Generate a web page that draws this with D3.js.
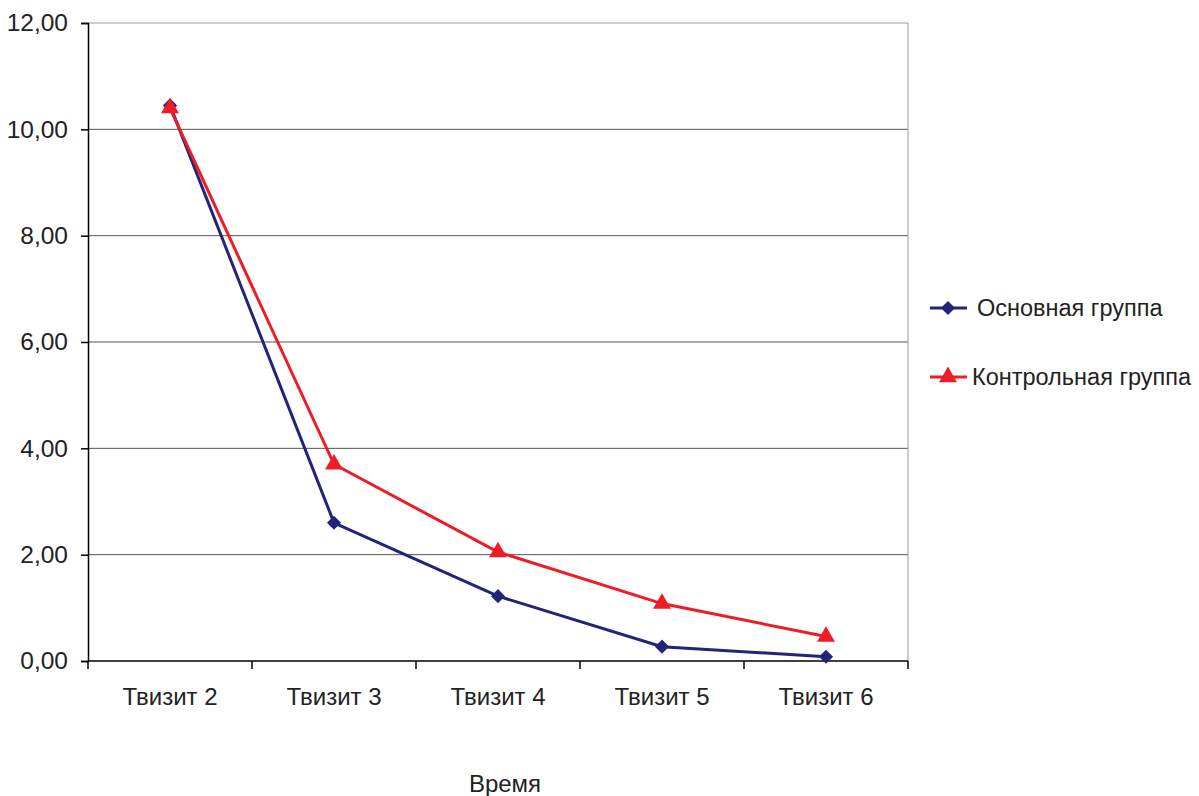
<!DOCTYPE html>
<html>
<head>
<meta charset="utf-8">
<script src="https://cdn.jsdelivr.net/npm/d3@7"></script>
<style>
  body { margin: 0; background: #fff; }
  svg { font-family: 'Liberation Sans', Arial, sans-serif; display: block; }
</style>
</head>
<body>
<svg id="chart" width="1199" height="796"></svg>
<script>
const categories = ['Твизит 2', 'Твизит 3', 'Твизит 4', 'Твизит 5', 'Твизит 6'];
const mainGroup = [10.45, 2.6, 1.22, 0.27, 0.08];
const controlGroup = [10.4, 3.7, 2.05, 1.08, 0.46];
const yTicks = [0, 2, 4, 6, 8, 10, 12];
const seriesNames = ['Основная группа', 'Контрольная группа'];

const svg = d3.select('svg#chart');
const margin = { top: 23, left: 88, right: 291, bottom: 135 };
const width = 1199, height = 796;
const innerWidth = width - margin.left - margin.right;
const innerHeight = height - margin.top - margin.bottom;

const g = svg.append('g')
  .attr('transform', `translate(${margin.left},${margin.top})`);

const xScale = d3.scaleBand().domain(categories).range([0, innerWidth]);
const yScale = d3.scaleLinear().domain([0, 12]).range([innerHeight, 0]);
const fmt = d => d3.format('.2f')(d).replace('.', ',');

// gridlines
g.selectAll('.grid').data(yTicks.filter(d => d > 0))
  .enter().append('line')
    .attr('x1', 0).attr('x2', innerWidth)
    .attr('y1', d => yScale(d)).attr('y2', d => yScale(d))
    .attr('stroke', d => d === 12 ? '#999' : '#555')
    .attr('stroke-width', 1);

// right border
g.append('line')
  .attr('x1', innerWidth).attr('x2', innerWidth)
  .attr('y1', 0).attr('y2', innerHeight)
  .attr('stroke', '#999');

// y axis
const yAxis = d3.axisLeft(yScale).tickValues(yTicks).tickFormat(fmt)
  .tickSize(7).tickPadding(13);
const yAxisG = g.append('g').call(yAxis);
yAxisG.selectAll('.domain').attr('stroke', '#000').attr('stroke-width', 1.5);
yAxisG.selectAll('.tick line').attr('stroke', '#000').attr('stroke-width', 1.5);
yAxisG.selectAll('.tick text').attr('font-size', 24.5).attr('fill', '#222')
  .attr('font-family', 'Liberation Sans, Arial, sans-serif');

// x axis
const xAxisG = g.append('g').attr('transform', `translate(0,${innerHeight})`);
xAxisG.append('line')
  .attr('x1', 0).attr('x2', innerWidth)
  .attr('stroke', '#000').attr('stroke-width', 1.5);
const bounds = d3.range(categories.length + 1).map(i => i * xScale.bandwidth());
xAxisG.selectAll('.xtick').data(bounds)
  .enter().append('line')
    .attr('x1', d => d).attr('x2', d => d)
    .attr('y1', 0).attr('y2', 8)
    .attr('stroke', '#000').attr('stroke-width', 1.5);
xAxisG.selectAll('.xlabel').data(categories)
  .enter().append('text')
    .attr('x', d => xScale(d) + xScale.bandwidth() / 2)
    .attr('y', 44)
    .attr('text-anchor', 'middle')
    .attr('font-size', 24)
    .attr('fill', '#222')
    .text(d => d);

svg.append('text')
  .attr('x', 505)
  .attr('y', 792)
  .attr('text-anchor', 'middle')
  .attr('font-size', 24)
  .attr('fill', '#222')
  .text('Время');

const xPos = (d, i) => xScale(categories[i]) + xScale.bandwidth() / 2;
const line = d3.line().x(xPos).y(d => yScale(d));

const series = [
  { name: seriesNames[0], values: mainGroup, color: '#23237a', symbol: d3.symbolSquare, size: 100, rot: 45 },
  { name: seriesNames[1], values: controlGroup, color: '#ee1c25', symbol: d3.symbolTriangle, size: 140, rot: 0 }
];

series.forEach(s => {
  g.append('path')
    .datum(s.values)
    .attr('fill', 'none')
    .attr('stroke', s.color)
    .attr('stroke-width', 3)
    .attr('d', line);
  g.selectAll(null).data(s.values)
    .enter().append('path')
      .attr('d', d3.symbol().type(s.symbol).size(s.size))
      .attr('transform', (d, i) => `translate(${xPos(d, i)},${yScale(d)}) rotate(${s.rot})`)
      .attr('fill', s.color);
});

// legend
const legend = svg.append('g');
series.forEach((s, i) => {
  const y = 308 + i * 69;
  const lg = legend.append('g').attr('transform', `translate(930,${y})`);
  lg.append('line').attr('x1', 0).attr('x2', 37)
    .attr('stroke', s.color).attr('stroke-width', 3);
  lg.append('path')
    .attr('d', d3.symbol().type(s.symbol).size(s.size))
    .attr('transform', `translate(18,0) rotate(${s.rot})`)
    .attr('fill', s.color);
  lg.append('text')
    .attr('x', i === 0 ? 47 : 42)
    .attr('y', 8)
    .attr('font-size', 23.5)
    .attr('fill', '#222')
    .text(s.name);
});
</script>
</body>
</html>
